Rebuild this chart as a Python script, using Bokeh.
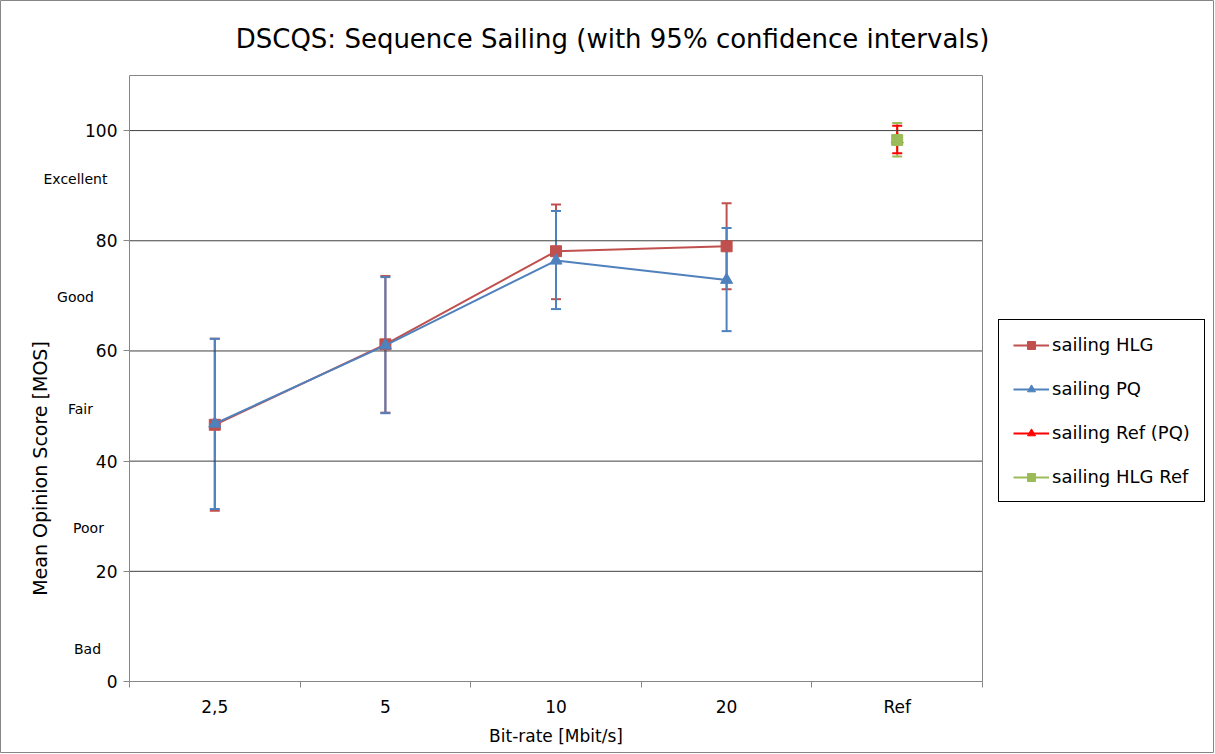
from bokeh.plotting import figure
from bokeh.models import (ColumnDataSource, Whisker, TeeHead, Legend, LegendItem,
                          FixedTicker, Label, Range1d)
from bokeh.embed import file_html
from bokeh.resources import INLINE
import math

# ---------------- data ----------------
categories = ["2,5", "5", "10", "20", "Ref"]
quality_labels = ["Excellent", "Good", "Fair", "Poor", "Bad"]

hlg_mean = [46.6, 61.2, 78.1, 79.0]
hlg_upper = [62.2, 73.6, 86.6, 86.8]
hlg_lower = [31.0, 48.8, 69.4, 71.2]

pq_mean = [46.8, 61.0, 76.4, 72.9]
pq_upper = [62.2, 73.4, 85.4, 82.3]
pq_lower = [31.3, 48.7, 67.6, 63.6]

ref_pq_mean = [98.4]
ref_pq_upper = [100.9]
ref_pq_lower = [95.9]

ref_hlg_mean = [98.3]
ref_hlg_upper = [101.4]
ref_hlg_lower = [95.3]

y_ticks = [0, 20, 40, 60, 80, 100]
Y_MAX = 110

# ---------------- layout (pixels) ----------------
W, H = 1214, 753
PL, PR, PT, PB = 129, 982, 75, 681     # plot area edges in canvas pixels

n = len(categories)
xc = [i + 0.5 for i in range(n)]
bounds = list(range(n + 1))

ux = (PR - PL) / n            # px per x unit
uy = (PB - PT) / Y_MAX        # px per y unit
x_start = -PL / ux
x_end = n + (W - PR) / ux
y_start = -(H - PB) / uy
y_end = Y_MAX + PT / uy


def dx(px):
    return x_start + px / ux


def dy(py):
    return y_end - py / uy


FONT = "DejaVu Sans"

p = figure(width=W, height=H, output_backend="svg", toolbar_location=None,
           x_range=Range1d(x_start, x_end), y_range=Range1d(y_start, y_end),
           min_border=0)
p.outline_line_color = "#868686"
p.background_fill_color = "white"
p.border_fill_color = "white"
p.xgrid.visible = False
p.ygrid.visible = False

# grid lines inside plot area
gsrc = ColumnDataSource(dict(y=y_ticks[1:], x0=[0] * 5, x1=[n] * 5))
p.segment(x0="x0", x1="x1", y0="y", y1="y", source=gsrc, line_color="#404040", line_width=1)
# plot-area border (top / right)
p.segment(x0=[0, n], x1=[n, n], y0=[Y_MAX, 0], y1=[Y_MAX, Y_MAX], line_color="#868686", line_width=1)

# axes
p.xaxis.fixed_location = 0
p.xaxis.bounds = (0, n)
p.xaxis.ticker = FixedTicker(ticks=xc, minor_ticks=bounds)
p.xaxis.major_label_overrides = {x: c for x, c in zip(xc, categories)}
p.xaxis.major_tick_out = 0
p.xaxis.major_tick_in = 0
p.xaxis.minor_tick_out = 6
p.xaxis.minor_tick_in = 0
p.xaxis.minor_tick_line_color = "#868686"
p.xaxis.axis_line_color = "#868686"
p.xaxis.major_label_text_font = FONT
p.xaxis.major_label_text_font_size = "17px"
p.xaxis.major_label_text_color = "black"
p.xaxis.major_label_standoff = 9
p.xaxis.axis_label = "Bit-rate [Mbit/s]"
p.xaxis.axis_label_text_font = FONT
p.xaxis.axis_label_text_font_size = "17px"
p.xaxis.axis_label_text_font_style = "normal"
p.xaxis.axis_label_text_color = "black"
p.xaxis.axis_label_standoff = 6

p.yaxis.fixed_location = 0
p.yaxis.bounds = (0, Y_MAX)
p.yaxis.ticker = FixedTicker(ticks=y_ticks, minor_ticks=[])
p.yaxis.major_tick_out = 6
p.yaxis.major_tick_in = 0
p.yaxis.major_tick_line_color = "#868686"
p.yaxis.axis_line_color = "#868686"
p.yaxis.major_label_text_font = FONT
p.yaxis.major_label_text_font_size = "17px"
p.yaxis.major_label_text_color = "black"
p.yaxis.major_label_standoff = 6

RED = "#C0504D"
BLUE = "#4F81BD"
PURE_RED = "#FF0000"
GREEN = "#9BBB59"


def add_whisker(xs, lo, hi, color):
    src = ColumnDataSource(dict(x=xs, lower=lo, upper=hi))
    w = Whisker(base="x", lower="lower", upper="upper", source=src,
                line_color=color, line_width=2,
                upper_head=TeeHead(size=10, line_color=color, line_width=2),
                lower_head=TeeHead(size=10, line_color=color, line_width=2))
    p.add_layout(w)


# HLG
add_whisker(xc[:4], hlg_lower, hlg_upper, RED)
hlg_src = ColumnDataSource(dict(x=xc[:4], y=hlg_mean))
l_hlg = p.line("x", "y", source=hlg_src, line_color=RED, line_width=2)
s_hlg = p.scatter("x", "y", source=hlg_src, marker="square", size=11,
                  fill_color=RED, line_color=RED)

# PQ
add_whisker(xc[:4], pq_lower, pq_upper, BLUE)
pq_src = ColumnDataSource(dict(x=xc[:4], y=pq_mean))
l_pq = p.line("x", "y", source=pq_src, line_color=BLUE, line_width=2)
s_pq = p.scatter("x", "y", source=pq_src, marker="triangle", size=12,
                 fill_color=BLUE, line_color=BLUE)

# Ref
add_whisker(xc[4:], ref_hlg_lower, ref_hlg_upper, GREEN)
add_whisker(xc[4:], ref_pq_lower, ref_pq_upper, PURE_RED)
rpq_src = ColumnDataSource(dict(x=xc[4:], y=ref_pq_mean))
l_rpq = p.line("x", "y", source=rpq_src, line_color=PURE_RED, line_width=2)
s_rpq = p.scatter("x", "y", source=rpq_src, marker="triangle", size=12,
                  fill_color=PURE_RED, line_color=PURE_RED)
rhlg_src = ColumnDataSource(dict(x=xc[4:], y=ref_hlg_mean))
l_rhlg = p.line("x", "y", source=rhlg_src, line_color=GREEN, line_width=2)
s_rhlg = p.scatter("x", "y", source=rhlg_src, marker="square", size=11,
                   fill_color=GREEN, line_color=GREEN)

legend = Legend(items=[
    LegendItem(label="sailing HLG", renderers=[l_hlg, s_hlg]),
    LegendItem(label="sailing PQ", renderers=[l_pq, s_pq]),
    LegendItem(label="sailing Ref (PQ)", renderers=[l_rpq, s_rpq]),
    LegendItem(label="sailing HLG Ref", renderers=[l_rhlg, s_rhlg]),
], location=(998, H - 502), margin=0, padding=14, spacing=23,
    glyph_width=36, glyph_height=20, label_height=20, label_standoff=3,
    label_text_font=FONT, label_text_font_size="18px", label_text_color="black",
    border_line_color="black", border_line_width=1, border_line_alpha=1.0,
    background_fill_color="white", background_fill_alpha=1.0)
p.add_layout(legend, "center")

# quality labels left of axis
q_px = [(75, 178), (75, 296), (80, 408), (88, 527), (87, 648)]
for t, (px, py) in zip(quality_labels, q_px):
    p.add_layout(Label(x=dx(px), y=dy(py), text=t, text_align="center", text_baseline="middle",
                       text_font=FONT, text_font_size="14px", text_color="black"))

# y axis label
p.add_layout(Label(x=dx(39), y=dy(468), text="Mean Opinion Score [MOS]", angle=math.pi / 2,
                   text_align="center", text_baseline="middle",
                   text_font=FONT, text_font_size="19px", text_color="black"))

# title
p.add_layout(Label(x=dx(612), y=dy(38), text="DSCQS: Sequence Sailing (with 95% confidence intervals)",
                   text_align="center", text_baseline="middle",
                   text_font=FONT, text_font_size="26px", text_color="black"))

open("out.html", "w").write(file_html(p, INLINE))
